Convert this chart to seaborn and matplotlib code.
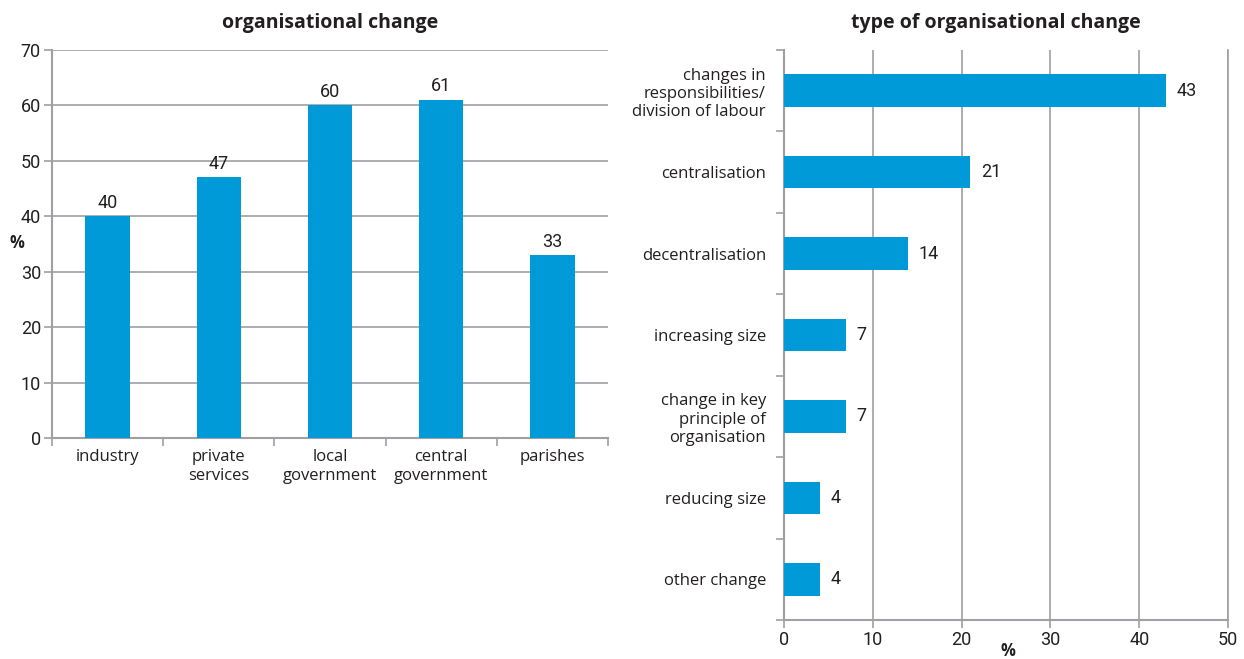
import matplotlib
matplotlib.use("Agg")
import matplotlib.pyplot as plt
import seaborn as sns
import pandas as pd
from matplotlib.ticker import FixedLocator

# Share of organisations reporting change, by sector
sectors = ["industry", "private\nservices", "local\ngovernment", "central\ngovernment", "parishes"]
sector_pct = [40, 47, 60, 61, 33]

# Type of organisational change
change_types = ["changes in\nresponsibilities/\ndivision of labour", "centralisation",
                "decentralisation", "increasing size", "change in key\nprinciple of\norganisation",
                "reducing size", "other change"]
change_pct = [43, 21, 14, 7, 7, 4, 4]

left_ticks = [0, 10, 20, 30, 40, 50, 60, 70]
right_ticks = [0, 10, 20, 30, 40, 50]

sns.set_theme(style="white")
plt.rcParams["font.family"] = ["Open Sans", "DejaVu Sans"]
num_font = ["Roboto", "DejaVu Sans"]

BLUE = "#009ad9"
GRID = "#a0a0a4"
TXT = "#231f20"

W, H = 1244, 659
fig = plt.figure(figsize=(W / 100, H / 100), dpi=100)
ax1 = fig.add_axes([52 / W, 1 - 438 / H, (608 - 52) / W, (438 - 50) / H])
ax2 = fig.add_axes([784 / W, 1 - 620 / H, (1228 - 784) / W, (620 - 50) / H])

# ---- left panel: vertical bars
df1 = pd.DataFrame({"sector": sectors, "pct": sector_pct})
sns.barplot(data=df1, x="sector", y="pct", color=BLUE, width=0.4, ax=ax1,
            saturation=1, linewidth=0, zorder=3)
ax1.set_ylim(0, 70)
ax1.set_xlim(-0.5, len(sectors) - 0.5)
ax1.set_yticks(left_ticks)
ax1.set_yticklabels([str(t) for t in left_ticks], family=num_font, fontsize=13, color=TXT)
ax1.yaxis.grid(True, color=GRID, lw=1.2, zorder=0)
ax1.set_xticks(range(len(sectors)))
ax1.set_xticklabels(sectors, fontsize=12, color=TXT, linespacing=1.2)
ax1.xaxis.set_minor_locator(FixedLocator([i - 0.5 for i in range(len(sectors) + 1)]))
ax1.tick_params(axis="x", which="major", length=0, pad=8)
ax1.tick_params(axis="x", which="minor", length=6, width=1.2, color=GRID, bottom=True)
ax1.tick_params(axis="y", length=6, width=1.2, color=GRID, left=True, pad=2)
for s in ["top", "right"]:
    ax1.spines[s].set_visible(False)
for s in ["left", "bottom"]:
    ax1.spines[s].set_color(GRID)
    ax1.spines[s].set_linewidth(1.5)
ax1.set_xlabel("")
ax1.set_ylabel("")
ax1.set_title("organisational change", fontsize=14, fontweight="bold", color=TXT, pad=16)
for i, v in enumerate(sector_pct):
    ax1.text(i, v + 0.8, str(v), ha="center", va="bottom", family=num_font, fontsize=13, color=TXT)
fig.text(17 / W, 1 - 243 / H, "%", ha="center", va="center", fontsize=12,
         fontweight="bold", color=TXT)

# ---- right panel: horizontal bars
df2 = pd.DataFrame({"type": change_types, "pct": change_pct})
sns.barplot(data=df2, y="type", x="pct", color=BLUE, width=0.4, ax=ax2,
            saturation=1, linewidth=0, orient="h", zorder=3)
ax2.set_xlim(0, 50)
ax2.set_ylim(len(change_types) - 0.5, -0.5)
ax2.set_xticks(right_ticks)
ax2.set_xticklabels([str(t) for t in right_ticks], family=num_font, fontsize=13, color=TXT)
ax2.xaxis.grid(True, color=GRID, lw=1.2, zorder=0)
ax2.set_yticks(range(len(change_types)))
ax2.set_yticklabels(change_types, fontsize=12, color=TXT, linespacing=1.2)
ax2.yaxis.set_minor_locator(FixedLocator([i - 0.5 for i in range(len(change_types) + 1)]))
ax2.tick_params(axis="y", which="major", length=0, pad=13)
ax2.tick_params(axis="y", which="minor", length=6, width=1.2, color=GRID, left=True)
ax2.tick_params(axis="x", length=6, width=1.2, color=GRID, bottom=True, pad=2)
ax2.spines["top"].set_visible(False)
ax2.spines["right"].set_color(GRID)
ax2.spines["right"].set_linewidth(1.2)
for s in ["left", "bottom"]:
    ax2.spines[s].set_color(GRID)
    ax2.spines[s].set_linewidth(1.5)
ax2.set_ylabel("")
ax2.set_xlabel("")
ax2.set_title("type of organisational change", fontsize=14, fontweight="bold", color=TXT,
              pad=16, x=(996 - 784) / (1228 - 784))
for i, v in enumerate(change_pct):
    ax2.text(v + 1.2, i, str(v), ha="left", va="center", family=num_font, fontsize=13, color=TXT)
fig.text(1008 / W, 1 - 651 / H, "%", ha="center", va="center", fontsize=12,
         fontweight="bold", color=TXT)

fig.savefig("out.png", dpi=100)
